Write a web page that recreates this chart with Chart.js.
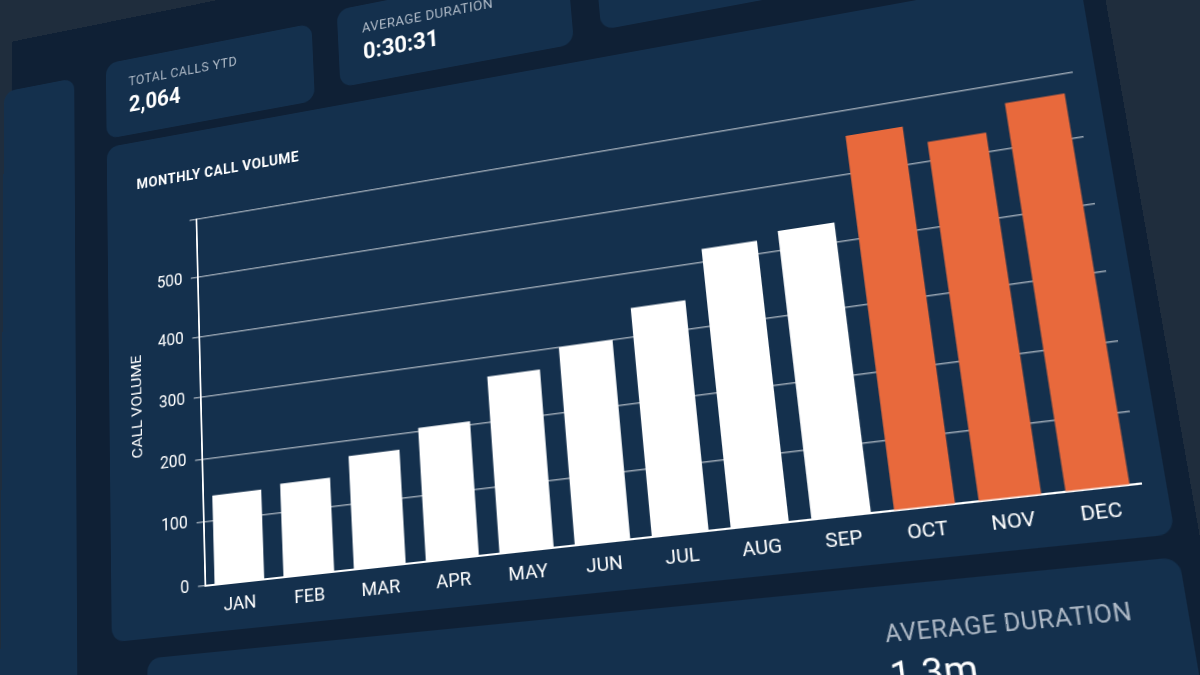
<!DOCTYPE html>
<html>
<head>
<meta charset="utf-8">
<script src="https://cdn.jsdelivr.net/npm/chart.js@4.4.1/dist/chart.umd.min.js"></script>
<style>
  html, body { margin: 0; width: 1200px; height: 675px; overflow: hidden; background: #1f2d3d; font-family: Roboto, "Open Sans", sans-serif; }
  #stage { position: absolute; left: 0; top: 0; width: 1200px; height: 675px; perspective: 1500px; }
  #board { position: absolute; left: -60px; top: -95px; width: 1180px; height: 840px; background: #0f2035;
           transform: rotateX(12deg) rotateY(-14deg) rotateZ(-5deg); transform-origin: 50% 50%; }
  .card { position: absolute; background: #14304d; border-radius: 14px; color: #fff; }
  .kpi .lbl { font-size: 15px; color: #aeb9c6; letter-spacing: 0.5px; }
  .kpi .val { font-size: 25px; font-weight: bold; margin-top: 4px; }
  #chartCard { left: 120px; top: 150px; width: 1040px; height: 540px; }
  #chartTitle { position: absolute; left: 36px; top: 40px; font-size: 16px; font-weight: bold; letter-spacing: 0.5px; }
  #chartWrap { position: absolute; left: 20px; top: 80px; width: 1000px; height: 450px; }
</style>
</head>
<body>
<div id="stage"><div id="board">
  <div class="card" style="left:-10px;top:60px;width:90px;height:780px;"></div>
  <div class="card kpi" style="left:120px;top:50px;width:250px;height:90px;"><div style="padding:18px 28px;"><div class="lbl">TOTAL CALLS YTD</div><div class="val">2,064</div></div></div>
  <div class="card kpi" style="left:400px;top:40px;width:260px;height:90px;"><div style="padding:18px 28px;"><div class="lbl">AVERAGE DURATION</div><div class="val">0:30:31</div></div></div>
  <div class="card kpi" style="left:690px;top:30px;width:360px;height:90px;"><div style="padding:18px 28px;"><div class="lbl">AVERAGE HANDLE TIME</div><div class="val">4.5 min</div></div></div>
  <div class="card" id="chartCard">
    <div id="chartTitle">MONTHLY CALL VOLUME</div>
    <div id="chartWrap"><canvas id="volChart"></canvas></div>
  </div>
  <div class="card kpi" style="left:160px;top:710px;width:1000px;height:160px;">
    <div style="position:absolute;left:440px;top:70px;"><div class="lbl" style="font-size:20px">TOTAL CALLS YTD</div></div>
    <div style="position:absolute;left:740px;top:30px;"><div class="lbl" style="font-size:22px">AVERAGE DURATION</div><div class="val" style="font-size:34px;font-weight:normal">1.3m</div></div>
  </div>
</div></div>
<script>
const months = ['JAN', 'FEB', 'MAR', 'APR', 'MAY', 'JUN', 'JUL', 'AUG', 'SEP', 'OCT', 'NOV', 'DEC'];
const callVolume = [140, 145, 175, 205, 270, 300, 345, 420, 430, 560, 530, 570];
const highlightFrom = 9; // OCT onwards

const ctx = document.getElementById('volChart');
new Chart(ctx, {
    type: 'bar',
    data: {
        labels: months,
        datasets: [{
            label: 'Call volume',
            data: callVolume,
            backgroundColor: callVolume.map((v, i) => i >= highlightFrom ? '#e8693c' : '#ffffff'),
            categoryPercentage: 0.85,
            barPercentage: 0.85
        }]
    },
    options: {
        responsive: true,
        maintainAspectRatio: false,
        animation: false,
        plugins: { legend: { display: false }, tooltip: { enabled: false } },
        scales: {
            x: {
                grid: { display: false },
                border: { color: '#ffffff', width: 2 },
                ticks: { color: '#ffffff', font: { family: 'Roboto', size: 19 } }
            },
            y: {
                min: 0, max: 600,
                border: { color: '#ffffff', width: 2 },
                grid: { color: 'rgba(255,255,255,0.55)', lineWidth: 1.5 },
                ticks: {
                    stepSize: 100, color: '#ffffff', font: { family: 'Roboto', size: 18 }, padding: 10,
                    callback: v => v <= 500 ? v : ''
                },
                title: { display: true, text: 'CALL VOLUME', color: '#ffffff', font: { family: 'Roboto', size: 17 } }
            }
        }
    }
});
</script>
</body>
</html>
